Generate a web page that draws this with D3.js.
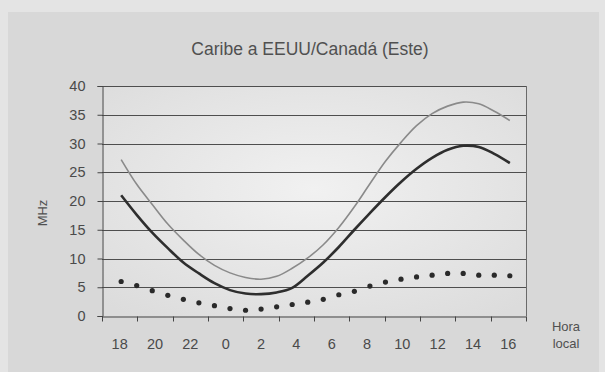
<!DOCTYPE html>
<html><head><meta charset="utf-8">
<script src="https://cdn.jsdelivr.net/npm/d3@7/dist/d3.min.js"></script>
<style>html,body{margin:0;padding:0;background:#e3e3e3;}svg{display:block;}</style>
</head><body>
<script>
const title = "Caribe a EEUU/Canadá (Este)";
const hourLabels = ["18","20","22","0","2","4","6","8","10","12","14","16"];
const yTicks = [0,5,10,15,20,25,30,35,40];
// 26 samples across the day
const upperLine = [27.2,22.9,19.4,16.0,13.2,10.7,8.8,7.5,6.7,6.4,6.9,8.3,10.1,12.4,15.4,19.0,23.0,26.9,30.2,33.1,35.2,36.5,37.2,36.9,35.6,34.0];
const mainLine  = [21.0,17.6,14.5,11.8,9.3,7.4,5.7,4.5,3.9,3.8,4.1,4.9,7.0,9.3,12.0,15.0,17.9,20.7,23.3,25.6,27.5,28.9,29.6,29.4,28.2,26.6];
const lowerDots = [6.0,5.3,4.4,3.6,2.9,2.3,1.8,1.3,1.0,1.2,1.6,2.0,2.4,2.9,3.7,4.3,5.2,5.9,6.4,6.8,7.1,7.4,7.4,7.1,7.1,7.0];

const W = 605, H = 372;
const m = {left:102, right:79, top:86, bottom:56};
const svg = d3.select("body").append("svg").attr("width",W).attr("height",H);

const defs = svg.append("defs");
const rg = defs.append("radialGradient").attr("id","pg").attr("cx","50%").attr("cy","45%").attr("r","70%");
rg.append("stop").attr("offset","0%").attr("stop-color","#f1f1f1");
rg.append("stop").attr("offset","100%").attr("stop-color","#dcdcdc");

svg.append("rect").attr("width",W).attr("height",H).attr("fill","#e4e4e4");
svg.append("rect").attr("x",8).attr("y",12).attr("width",W-14).attr("height",H-12).attr("fill","#d8d8d8");

const x = d3.scaleBand().domain(hourLabels).range([m.left, W-m.right]).padding(0);
const y = d3.scaleLinear().domain([0,40]).range([H-m.bottom, m.top]);
const bw = x.bandwidth();
const xs = d3.scalePoint().domain(d3.range(upperLine.length))
  .range([x(hourLabels[0])+bw/2+1.5, x(hourLabels[hourLabels.length-1])+bw/2+1.5]);

svg.append("rect").attr("x",m.left).attr("y",m.top)
  .attr("width",W-m.right-m.left).attr("height",H-m.bottom-m.top).attr("fill","url(#pg)");

// gridlines
svg.append("g").selectAll("line").data(yTicks.filter(d=>d>0)).join("line")
  .attr("x1",m.left).attr("x2",W-m.right)
  .attr("y1",d=>Math.round(y(d))+0.5).attr("y2",d=>Math.round(y(d))+0.5)
  .attr("stroke","#4e4e4e").attr("stroke-width",1);
// right border
svg.append("line").attr("x1",W-m.right+0.5).attr("x2",W-m.right+0.5)
  .attr("y1",m.top).attr("y2",H-m.bottom).attr("stroke","#6a6a6a");

// axes
const yAxis = d3.axisLeft(y).tickValues(yTicks).tickSize(5).tickPadding(12);
const gy = svg.append("g").attr("transform",`translate(${m.left+0.5},0)`).call(yAxis);
gy.select(".domain").attr("stroke","#444");
gy.selectAll(".tick line").attr("stroke","#444");
gy.selectAll("text").attr("fill","#4a4a4a").style("font-family","'Liberation Sans',Arial,sans-serif").style("font-size","14.5px");

const xAxis = d3.axisBottom(x).tickSize(0).tickPadding(22);
const gx = svg.append("g").attr("transform",`translate(0,${Math.round(y(0))+0.5})`).call(xAxis);
gx.select(".domain").attr("stroke","#444");
gx.selectAll("text").attr("fill","#4a4a4a").style("font-family","'Liberation Sans',Arial,sans-serif").style("font-size","14.5px");
// boundary ticks
gx.append("g").selectAll("line").data(hourLabels.concat(["end"])).join("line")
  .attr("x1",(d,i)=>Math.round(m.left+i*bw)+0.5).attr("x2",(d,i)=>Math.round(m.left+i*bw)+0.5)
  .attr("y1",0).attr("y2",5).attr("stroke","#444");

// series
const curve = d3.curveCatmullRom.alpha(0.5);
const lineGen = d3.line().x((d,i)=>xs(i)).y(d=>y(d)).curve(curve);
svg.append("path").datum(upperLine).attr("d",lineGen).attr("fill","none")
  .attr("stroke","#8a8a8a").attr("stroke-width",1.6);
svg.append("path").datum(mainLine).attr("d",lineGen).attr("fill","none")
  .attr("stroke","#2e2e2e").attr("stroke-width",2.6);
svg.append("g").selectAll("circle").data(lowerDots).join("circle")
  .attr("cx",(d,i)=>xs(i)).attr("cy",d=>y(d)).attr("r",2.6).attr("fill","#2a2a2a");

// texts
svg.append("text").attr("x",310).attr("y",55).attr("text-anchor","middle")
  .attr("fill","#505050").style("font-family","'Liberation Sans',Arial,sans-serif").style("font-size","17.5px")
  .text(title);
svg.append("text").attr("transform","translate(47,213) rotate(-90)").attr("text-anchor","middle")
  .attr("fill","#505050").style("font-family","'Liberation Sans',Arial,sans-serif").style("font-size","13px").text("MHz");
const hl = svg.append("text").attr("x",566).attr("y",331).attr("text-anchor","middle")
  .attr("fill","#505050").style("font-family","'Liberation Sans',Arial,sans-serif").style("font-size","13px");
hl.append("tspan").attr("x",566).attr("dy",0).text("Hora");
hl.append("tspan").attr("x",566).attr("dy",17).text("local");
</script>
</body></html>
